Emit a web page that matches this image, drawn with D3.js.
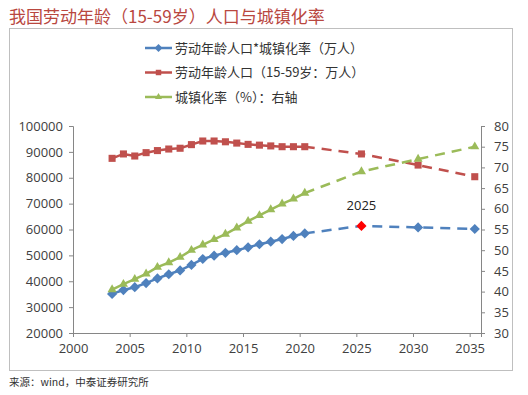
<!DOCTYPE html>
<html>
<head>
<meta charset="utf-8">
<script src="https://cdn.jsdelivr.net/npm/d3@7"></script>
<style>
  body { margin: 0; background: #fff; }
  text { font-family: "Open Sans", "Noto Sans CJK SC", sans-serif; }
</style>
</head>
<body>
<div id="chart"></div>
<script>
// data
const years = [2003, 2004, 2005, 2006, 2007, 2008, 2009, 2010, 2011, 2012, 2013, 2014, 2015, 2016, 2017, 2018, 2019, 2020, 2025, 2030, 2035];
const workUrban = [35100, 36600, 37700, 39300, 41100, 42700, 44200, 46300, 48600, 49900, 51000, 52000, 53100, 54300, 55300, 56300, 57500, 58500, 61400, 60800, 60200];
const labour = [87500, 89200, 88400, 89700, 90500, 91100, 91400, 92800, 94200, 94200, 93900, 93400, 92900, 92600, 92300, 92000, 92000, 92000, 89200, 84900, 80400];
const urbanRate = [40.5, 41.8, 43.0, 44.3, 45.9, 47.0, 48.3, 50.0, 51.3, 52.6, 53.9, 55.4, 57.0, 58.4, 59.8, 61.2, 62.4, 63.8, 69.0, 72.0, 75.0];
const lastActual = 2020;
const highlightYear = 2025;
const xTicks = [2000, 2005, 2010, 2015, 2020, 2025, 2030, 2035];
const leftTicks = [20000, 30000, 40000, 50000, 60000, 70000, 80000, 90000, 100000];
const rightTicks = [30, 35, 40, 45, 50, 55, 60, 65, 70, 75, 80];
const seriesNames = ["劳动年龄人口*城镇化率（万人）", "劳动年龄人口（15-59岁：万人）", "城镇化率（%）：右轴"];

const width = 528, height = 395;
const blue = "#4F81BD", red = "#C0504D", green = "#9BBB59";

var svg = d3.select("#chart").append("svg")
    .attr("width", width)
    .attr("height", height);

// title
svg.append("text")
    .attr("x", 9).attr("y", 23)
    .attr("fill", "#B9473F")
    .style("font-family", "'Noto Sans CJK SC'")
    .style("font-size", "17px")
    .text("我国劳动年龄（15-59岁）人口与城镇化率");

// chart frame
svg.append("rect")
    .attr("x", 9.5).attr("y", 28.5)
    .attr("width", 503).attr("height", 342)
    .attr("fill", "none")
    .attr("stroke", "#BFBFBF");

// source
svg.append("text")
    .attr("x", 9).attr("y", 386)
    .attr("fill", "#333")
    .style("font-family", "'Noto Sans CJK SC'")
    .style("font-size", "10.5px")
    .text("来源：wind，中泰证券研究所");

// scales
var x = d3.scaleLinear().domain([2000, 2036]).range([73, 481]);
var yL = d3.scaleLinear().domain([20000, 100000]).range([333, 126]);
var yR = d3.scaleLinear().domain([30, 80]).range([333, 126]);
const mid = 0.45; // points sit mid-year as in the original

// axes
var axisColor = "#868686";
function styleAxis(g) {
  g.select(".domain").attr("stroke", axisColor).attr("stroke-width", 1);
  g.selectAll(".tick line").attr("stroke", axisColor);
  g.selectAll(".tick text").attr("fill", "#404040")
    .style("font-size", "13px");
}

svg.append("g")
    .attr("transform", "translate(0,333)")
    .call(d3.axisBottom(x).tickValues(xTicks).tickFormat(d3.format("d")).tickSizeOuter(0).tickSize(4).tickPadding(7))
    .call(styleAxis);

svg.append("g")
    .attr("transform", "translate(73,0)")
    .call(d3.axisLeft(yL).tickValues(leftTicks).tickFormat(d3.format("d")).tickSizeOuter(0).tickSize(4).tickPadding(6))
    .call(styleAxis);

svg.append("g")
    .attr("transform", "translate(481,0)")
    .call(d3.axisRight(yR).tickValues(rightTicks).tickSizeOuter(0).tickSize(4).tickPadding(9))
    .call(styleAxis);

// excel style diamond = square turned 45 degrees
const squareDiamond = {
  draw(context, size) {
    const r = Math.sqrt(size / 2);
    context.moveTo(0, -r);
    context.lineTo(r, 0);
    context.lineTo(0, r);
    context.lineTo(-r, 0);
    context.closePath();
  }
};

// series
const series = [
  { name: seriesNames[0], values: workUrban, y: yL, color: blue, shape: squareDiamond, size: 52 },
  { name: seriesNames[1], values: labour, y: yL, color: red, shape: d3.symbolSquare, size: 50 },
  { name: seriesNames[2], values: urbanRate, y: yR, color: green, shape: d3.symbolTriangle, size: 36 }
];

series.forEach(function(s) {
  var pts = years.map((yr, i) => ({ year: yr, v: s.values[i] }));
  var line = d3.line().x(d => x(d.year + mid)).y(d => s.y(d.v));
  var solid = pts.filter(d => d.year <= lastActual);
  var dashed = pts.filter(d => d.year >= lastActual);

  svg.append("path")
      .attr("d", line(solid))
      .attr("fill", "none")
      .attr("stroke", s.color)
      .attr("stroke-width", 2.5);

  svg.append("path")
      .attr("d", line(dashed))
      .attr("fill", "none")
      .attr("stroke", s.color)
      .attr("stroke-width", 2.5)
      .attr("stroke-dasharray", "10,7");

  svg.append("g").selectAll("path")
      .data(pts)
      .join("path")
      .attr("transform", d => `translate(${x(d.year + mid)},${s.y(d.v)})`)
      .attr("d", d3.symbol().type(s.shape).size(s.size))
      .attr("fill", d => (s === series[0] && d.year === highlightYear) ? "#FF0000" : s.color);
});

// 2025 label
var hi = years.indexOf(highlightYear);
svg.append("text")
    .attr("x", x(highlightYear + mid))
    .attr("y", yL(workUrban[hi]) - 16)
    .attr("text-anchor", "middle")
    .attr("fill", "#222")
    .style("font-size", "13px")
    .text(String(highlightYear));

// legend
var legend = svg.append("g");
series.forEach(function(s, i) {
  var ly = 48 + i * 24.5;
  legend.append("line")
      .attr("x1", 145).attr("x2", 172)
      .attr("y1", ly).attr("y2", ly)
      .attr("stroke", s.color)
      .attr("stroke-width", 2.5);
  legend.append("path")
      .attr("transform", `translate(158.5,${ly})`)
      .attr("d", d3.symbol().type(s.shape).size(s.size * 0.6))
      .attr("fill", s.color);
  legend.append("text")
      .attr("x", 175).attr("y", ly)
      .attr("dy", "0.36em")
      .attr("fill", "#333")
      .style("font-family", "'Noto Sans CJK SC'")
      .style("font-size", "13px")
      .text(s.name);
});
</script>
</body>
</html>
